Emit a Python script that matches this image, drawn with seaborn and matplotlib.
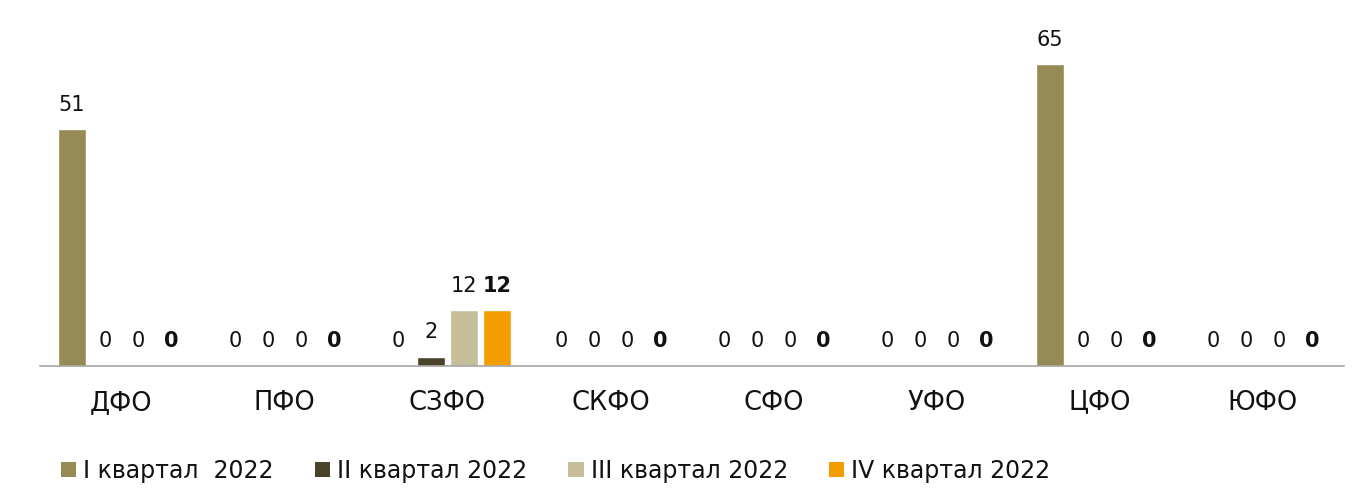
import matplotlib
matplotlib.use("Agg")
import matplotlib.pyplot as plt
import seaborn as sns
import pandas as pd
from matplotlib.patches import Patch

categories = ["ДФО", "ПФО", "СЗФО", "СКФО", "СФО", "УФО", "ЦФО", "ЮФО"]
series = ["I квартал  2022", "II квартал 2022", "III квартал 2022", "IV квартал 2022"]
q1 = [51, 0, 0, 0, 0, 0, 65, 0]
q2 = [0, 0, 2, 0, 0, 0, 0, 0]
q3 = [0, 0, 12, 0, 0, 0, 0, 0]
q4 = [0, 0, 12, 0, 0, 0, 0, 0]
colors = ["#978B55", "#4A4329", "#C6BE98", "#F49D00"]

rows = []
for s, vals in zip(series, [q1, q2, q3, q4]):
    for c, v in zip(categories, vals):
        rows.append({"cat": c, "series": s, "value": v})
df = pd.DataFrame(rows)

sns.set_theme(style="white")
plt.rcParams["font.family"] = ["DejaVu Sans"]

fig = plt.figure(figsize=(13.63, 4.93), dpi=100)
ax = fig.add_axes([40 / 1363, (493 - 366) / 493, 1304 / 1363, 366 / 493])

sns.barplot(data=df, x="cat", y="value", hue="series", order=categories,
            hue_order=series, palette=colors, width=0.81, gap=0.16,
            saturation=1, ax=ax, legend=False, errorbar=None)

for i, cont in enumerate(ax.containers):
    labels = [f"{v:g}" for v in cont.datavalues]
    ax.bar_label(cont, labels=labels, padding=10.5, fontsize=15,
                 fontweight="bold" if i == 3 else "normal", color="#111111")

ax.set_xlim(-0.5, len(categories) - 0.5)
ax.set_ylim(0, 78.8)
ax.set_xlabel("")
ax.set_ylabel("")
ax.set_yticks([])
for sp in ["top", "right", "left"]:
    ax.spines[sp].set_visible(False)
ax.spines["bottom"].set_color("#A6A6A6")
ax.spines["bottom"].set_linewidth(1.2)
ax.tick_params(axis="x", length=0, pad=17, labelsize=18.5, labelcolor="#111111")

handles = [Patch(facecolor=c, edgecolor="none") for c in colors]
fig.legend(handles, series, loc="center left", bbox_to_anchor=(0.029, 0.045),
           ncol=4, frameon=False, fontsize=17, handlelength=0.64, handleheight=0.64,
           handletextpad=0.3, columnspacing=1.75, labelcolor="#111111")

fig.savefig("out.png", dpi=100)
